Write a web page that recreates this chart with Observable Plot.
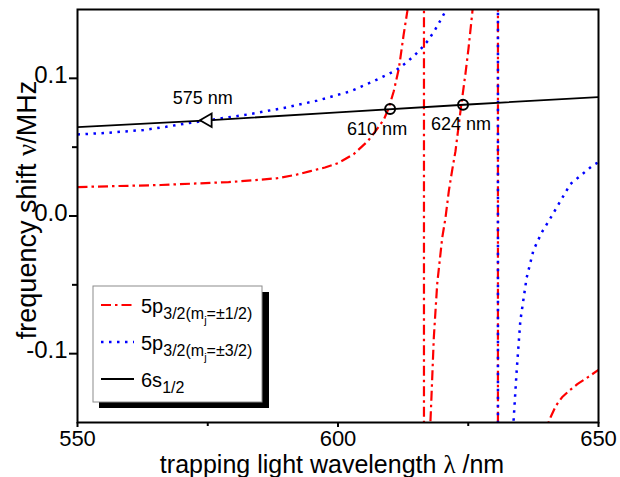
<!DOCTYPE html>
<html><head><meta charset="utf-8">
<script src="https://cdn.jsdelivr.net/npm/d3@7"></script>
<script src="https://cdn.jsdelivr.net/npm/@observablehq/plot@0.6"></script>
<style>body{margin:0;background:#fff;} svg{display:block}</style>
</head><body>
<div id="chart"></div>
<script>
// ---- tick values and labels ----
const xTicks = [550, 600, 650];
const xTickLabels = ["550", "600", "650"];
const xMinorTicks = [575, 625];
const yTicks = [-0.1, 0, 0.1];
const yTickLabels = ["-0.1", "0.0", "0.1"];
const yMinorTicks = [-0.05, 0.05];

// ---- series: [wavelength nm, frequency shift MHz]; ±1 marks a divergence (resonance) ----
const red5p12 = [
  [550, 0.0210], [557, 0.0217], [566, 0.0225], [572, 0.0235], [579, 0.0246], [584, 0.0260],
  [588.4, 0.0275], [592, 0.0300], [594.7, 0.0326], [597.5, 0.0352], [600, 0.0384], [603, 0.0449],
  [605.7, 0.0543], [607.2, 0.0616], [608.8, 0.0701], [609.75, 0.0785], [610.7, 0.0906],
  [611.7, 0.1075], [612.6, 0.1317], [613.3, 0.1486], [613.7, 0.175],
  [616.5, 1], [616.5, -1],
  [617.5, -0.175], [617.75, -0.1486], [617.95, -0.1304], [618.39, -0.0884], [619.04, -0.0493],
  [620.0, -0.0159], [620.63, -0.0014], [621.27, 0.0181], [621.98, 0.0348], [622.55, 0.0471],
  [623.65, 0.0804], [624.47, 0.1036], [625.05, 0.1217], [625.82, 0.1493], [626.1, 0.175],
  [630.7, 1], [630.7, -1],
  [640.1, -0.175], [640.4, -0.150], [640.8, -0.1462], [641.8, -0.1380], [643.0, -0.1317],
  [644.5, -0.1265], [646.0, -0.1220], [648.0, -0.1170], [650.0, -0.1118]
];
const blue5p32 = [
  [550, 0.0592], [556, 0.0605], [562.7, 0.0625], [567, 0.0648], [571.1, 0.0674], [575, 0.0695],
  [582.6, 0.0737], [589.6, 0.0785], [596, 0.0838], [602.4, 0.0906], [606.9, 0.0980],
  [609.1, 0.1020], [611.2, 0.1060], [613.3, 0.1120], [615.5, 0.1196], [617.3, 0.1275],
  [618.7, 0.1357], [619.9, 0.1437], [620.8, 0.1500], [621.8, 0.175],
  [630.7, 1], [630.7, -1],
  [633.3, -0.175], [633.7, -0.1486], [634.3, -0.1120], [635.0, -0.0760], [636.2, -0.0450],
  [637.5, -0.0250], [639.1, -0.0120], [640.8, -0.0014], [642.7, 0.0109], [644.6, 0.0232],
  [646.9, 0.0304], [649.0, 0.0370], [650.0, 0.0390]
];
const black6s = [
  [550, 0.0645], [575, 0.0695], [600, 0.0753], [625, 0.0810], [650, 0.0864]
];

// ---- annotated points ----
const magicPoint = [{wavelength: 575, shift: 0.0695, label: "575 nm"}];
const crossing610 = [{wavelength: 610, shift: 0.0777, label: "610 nm"}];
const crossing624 = [{wavelength: 624, shift: 0.0808, label: "624 nm"}];

const FONT = "'Liberation Sans', Arial, Helvetica, sans-serif";
const RED_DASH = "10,4,2.5,4";
const BLUE_DOT = "2.5,5.5";

const chart = Plot.plot({
  width: 620, height: 477,
  marginLeft: 77, marginRight: 22, marginTop: 9, marginBottom: 55,
  style: {fontFamily: FONT, background: "white", color: "black", overflow: "visible"},
  x: {domain: [550, 650]},
  y: {domain: [-0.15, 0.15]},
  marks: [
    Plot.line(red5p12, {x: d => d[0], y: d => d[1], stroke: "#ff0000", strokeWidth: 2.2,
      strokeDasharray: RED_DASH, strokeLinecap: "butt", clip: true}),
    Plot.line(blue5p32, {x: d => d[0], y: d => d[1], stroke: "#0000ff", strokeWidth: 2.5,
      strokeDasharray: BLUE_DOT, strokeLinecap: "butt", clip: true}),
    Plot.line(black6s, {x: d => d[0], y: d => d[1], stroke: "black", strokeWidth: 1.8,
      strokeLinecap: "butt", clip: true}),
    Plot.dot(magicPoint, {x: "wavelength", y: "shift", symbol: "triangle", r: 5, rotate: -90,
      stroke: "black", fill: "white", strokeWidth: 1.8}),
    Plot.dot(crossing610.concat(crossing624), {x: "wavelength", y: "shift", r: 5,
      stroke: "black", fill: "none", strokeWidth: 2}),
    Plot.text(magicPoint, {x: "wavelength", y: "shift", text: "label", fontSize: 18, dx: -5, dy: -22}),
    Plot.text(crossing610, {x: "wavelength", y: "shift", text: "label", fontSize: 18, dx: -13, dy: 20}),
    Plot.text(crossing624, {x: "wavelength", y: "shift", text: "label", fontSize: 18, dx: -2, dy: 19}),
    Plot.frame({stroke: "black", strokeWidth: 2}),
    Plot.axisX(xTicks, {tickSize: 5, tickPadding: 3, strokeWidth: 2, fontSize: 22, label: null,
      tickFormat: d => xTickLabels[xTicks.indexOf(d)]}),
    Plot.axisX(xMinorTicks, {tickSize: 4, strokeWidth: 2, label: null, tickFormat: () => ""}),
    Plot.axisY(yTicks, {tickSize: 8, strokeWidth: 2, label: null, tickFormat: () => ""}),
    Plot.axisY(yTicks, {tickSize: 0, tickPadding: 10, dy: -3, fontSize: 24, label: null,
      tickFormat: d => yTickLabels[yTicks.indexOf(d)]}),
    Plot.axisY(yMinorTicks, {tickSize: 5, strokeWidth: 2, label: null, tickFormat: () => ""})
  ]
});
document.getElementById("chart").appendChild(chart);

// ---- axis titles (with serif Greek letters) ----
const svg = d3.select(chart);
const xt = svg.append("text").attr("x", 332).attr("y", 473).attr("text-anchor", "middle")
  .attr("font-family", FONT).attr("font-size", 25).attr("fill", "black");
xt.append("tspan").text("trapping light wavelength ");
xt.append("tspan").attr("font-family", "'Liberation Serif', 'DejaVu Serif', serif").text("λ");
xt.append("tspan").text(" /nm");

const yt = svg.append("text").attr("transform", "translate(36,210) rotate(-90)")
  .attr("text-anchor", "middle").attr("font-family", FONT).attr("font-size", 27).attr("fill", "black");
yt.append("tspan").text("frequency shift ");
yt.append("tspan").attr("font-family", "'Liberation Serif', 'DejaVu Serif', serif").text("ν");
yt.append("tspan").text("/MHz");

// ---- legend ----
const lg = svg.append("g").attr("font-family", FONT).attr("fill", "black").attr("text-anchor", "start");
lg.append("rect").attr("x", 99).attr("y", 292).attr("width", 170).attr("height", 116).attr("fill", "black");
lg.append("rect").attr("x", 93).attr("y", 286).attr("width", 169).attr("height", 116)
  .attr("fill", "white").attr("stroke", "#8c8c8c").attr("stroke-width", 1);

const legendRows = [
  {y: 305, stroke: "#ff0000", width: 2.2, dash: RED_DASH, main: "5p", sub: "3/2(m", subsub: "j", tail: "=±1/2)"},
  {y: 342, stroke: "#0000ff", width: 2.5, dash: BLUE_DOT, main: "5p", sub: "3/2(m", subsub: "j", tail: "=±3/2)"},
  {y: 379, stroke: "black", width: 1.8, dash: null, main: "6s", sub: "1/2", subsub: null, tail: null}
];
legendRows.forEach(r => {
  const ln = lg.append("line").attr("x1", 101).attr("x2", 134).attr("y1", r.y).attr("y2", r.y)
    .attr("stroke", r.stroke).attr("stroke-width", r.width);
  if (r.dash) ln.attr("stroke-dasharray", r.dash);
  const t = lg.append("text").attr("x", 141).attr("y", r.y + 8).attr("font-size", 20)
    .attr("text-anchor", "start");
  t.append("tspan").text(r.main);
  t.append("tspan").attr("font-size", 16).attr("dy", 6).text(r.sub);
  if (r.subsub) {
    t.append("tspan").attr("font-size", 11).attr("dy", 5).text(r.subsub);
    t.append("tspan").attr("font-size", 16).attr("dy", -5).text(r.tail);
  }
});
</script>
</body></html>
